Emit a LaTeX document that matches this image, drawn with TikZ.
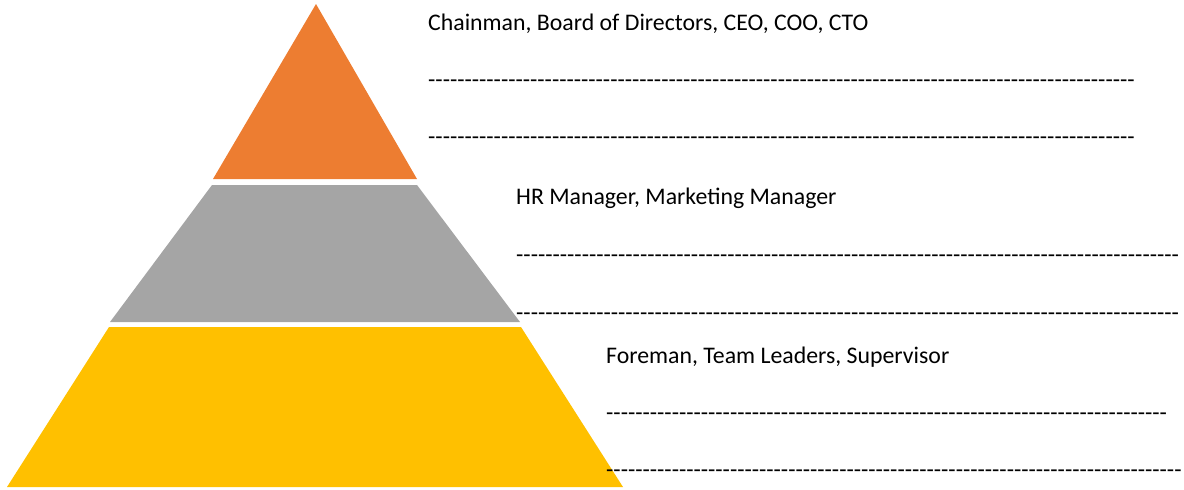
\documentclass[tikz,border=0pt]{standalone}
\usepackage{fontspec}
\newfontfamily\cf{Carlito}
\ExplSyntaxOn
\cs_new:Npn \myrep #1 {\prg_replicate:nn{#1}{-}}
\ExplSyntaxOff
\definecolor{tierorange}{HTML}{ED7D31}
\definecolor{tiergray}{HTML}{A5A5A5}
\definecolor{tieryellow}{HTML}{FFC000}
\begin{document}
\begin{tikzpicture}[x=1pt,y=-1pt,
  lbl/.style={font=\cf\fontsize{23.8}{28}\selectfont, anchor=base west, inner sep=0pt, text=black}]
\useasboundingbox (0,0) rectangle (1184,490);
\fill[tierorange] (316,4) -- (417,179) -- (213,179) -- cycle;
\fill[tiergray] (212,185) -- (417,185) -- (520,322) -- (110,322) -- cycle;
\fill[tieryellow] (109,327) -- (521,327) -- (623,487) -- (7,487) -- cycle;
\node[lbl] (t1) at (428,30) {Chainman, Board of Directors, CEO, COO, CTO};
\node[lbl] (d1a) at (428,87) {\myrep{97}};
\node[lbl] (d1b) at (428,144) {\myrep{97}};
\node[lbl] (t2) at (516,204) {HR Manager, Marketing Manager};
\node[lbl] (d2a) at (516,262) {\myrep{91}};
\node[lbl] (d2b) at (516,320) {\myrep{91}};
\node[lbl] (t3) at (606,363) {Foreman, Team Leaders, Supervisor};
\node[lbl] (d3a) at (606,420) {\myrep{77}};
\node[lbl] (d3b) at (606,477) {\myrep{79}};
\end{tikzpicture}
\end{document}
